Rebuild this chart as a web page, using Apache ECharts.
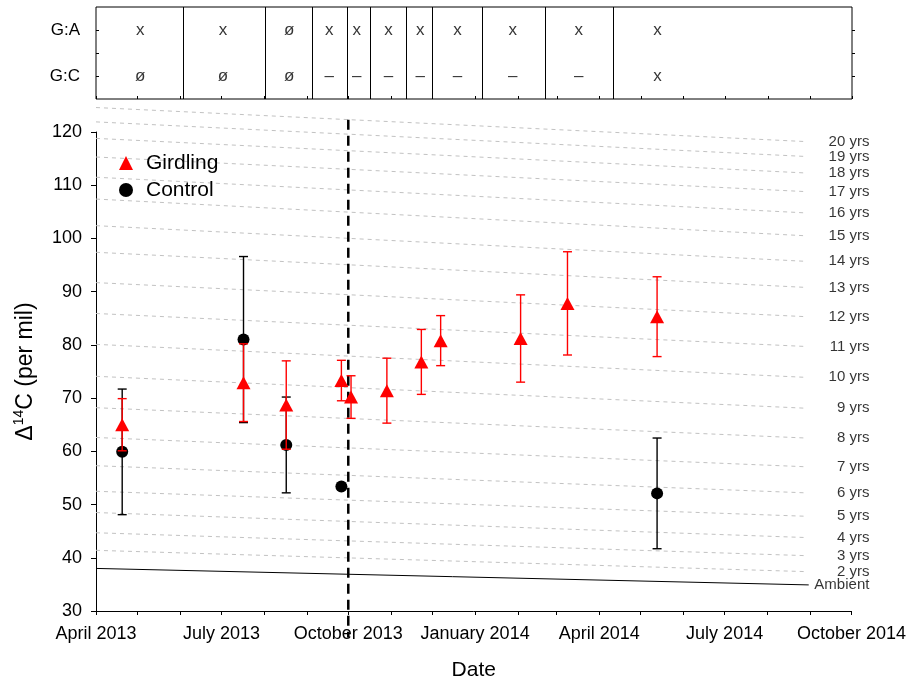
<!DOCTYPE html>
<html>
<head>
<meta charset="utf-8">
<script src="https://cdn.jsdelivr.net/npm/echarts@6/dist/echarts.min.js"></script>
<style>
html,body{margin:0;padding:0;background:#fff;}
#chart{width:909px;height:686px;}
</style>
</head>
<body>
<div id="chart"></div>
<script>
// ---------- data ----------
const axisStart = '2013-04-01';
const axisEnd = '2014-10-01';
const quarterDates = ['2013-04-01','2013-07-01','2013-10-01','2014-01-01','2014-04-01','2014-07-01','2014-10-01'];
const quarterLabels = ['April 2013','July 2013','October 2013','January 2014','April 2014','July 2014','October 2014'];
const monthDates = ['2013-04-01','2013-05-01','2013-06-01','2013-07-01','2013-08-01','2013-09-01','2013-10-01','2013-11-01','2013-12-01',
  '2014-01-01','2014-02-01','2014-03-01','2014-04-01','2014-05-01','2014-06-01','2014-07-01','2014-08-01','2014-09-01','2014-10-01'];
const yTicks = [30,40,50,60,70,80,90,100,110,120];

const girdDates = ['2013-04-20','2013-07-17','2013-08-17','2013-09-26','2013-10-03','2013-10-29','2013-11-23','2013-12-07','2014-02-03','2014-03-09','2014-05-13'];
const girdMean  = [65.0, 72.9, 68.7, 73.3, 70.2, 71.4, 76.8, 80.8, 81.2, 87.8, 85.3];
const girdErr   = [4.9, 7.3, 8.3, 3.8, 4.0, 6.1, 6.1, 4.7, 8.2, 9.7, 7.5];

const ctrlDates = ['2013-04-20','2013-07-17','2013-08-17','2013-09-26','2014-05-13'];
const ctrlMean  = [59.9, 81.0, 61.2, 53.4, 52.1];
const ctrlErr   = [11.8, 15.6, 9.0, 0, 10.4];

const ageNames     = ['20 yrs','19 yrs','18 yrs','17 yrs','16 yrs','15 yrs','14 yrs','13 yrs','12 yrs','11 yrs','10 yrs','9 yrs','8 yrs','7 yrs','6 yrs','5 yrs','4 yrs','3 yrs','2 yrs'];
const ageStartVals = [124.6,121.9,118.8,115.3,111.5,107.4,102.4,97.4,91.7,85.9,80.1,74.1,68.2,62.6,57.3,52.5,48.5,44.7,41.4];
const ageEndVals   = [118.2,115.4,112.3,108.8,104.8,100.5,95.7,90.8,85.3,79.7,73.9,68.1,62.5,57.1,52.2,47.8,43.8,40.4,37.4];
const ageLineStart = '2013-04-01';
const ageLineEnd   = '2014-08-29';
const ageLabelDate = '2014-10-14';

const ambientName = 'Ambient';
const ambientDates = ['2013-04-01','2014-08-31'];
const ambientVals  = [38.0, 34.9];

const girdlingStart = '2013-10-01';
const girdlingLineVals = [122.3, 25.0];

// top panel table
const rowNames = ['G:A','G:C'];
const rowLevels = [3, 1];
const cellDates = ['2013-05-03','2013-07-02','2013-08-19','2013-09-17','2013-10-07','2013-10-30','2013-11-22','2013-12-19','2014-01-28','2014-03-17','2014-05-13'];
const rowGA = ['x','x','ø','x','x','x','x','x','x','x','x'];
const rowGC = ['ø','ø','ø','–','–','–','–','–','–','–','x'];
const dividerDates = ['2013-06-03','2013-08-02','2013-09-05','2013-09-30','2013-10-17','2013-11-12','2013-12-01','2014-01-06','2014-02-21','2014-04-11'];

// ---------- chart ----------
const FONT = 'Liberation Sans, Arial, Helvetica, sans-serif';
const ts = s => echarts.number.parseDate(s).getTime();
const quarterTs = quarterDates.map(ts);
const monthTs = monthDates.map(ts);

function errSeries(name, dates, means, errs, color, z) {
  return {
    type: 'custom',
    name: name + ' err',
    xAxisIndex: 0, yAxisIndex: 0,
    z: z, silent: true,
    data: dates.map((d, i) => [ts(d), means[i] - errs[i], means[i] + errs[i], errs[i]]),
    encode: {x: 0, y: [1, 2]},
    renderItem: function (params, api) {
      if (api.value(3) <= 0) return null;
      const lo = api.coord([api.value(0), api.value(1)]);
      const hi = api.coord([api.value(0), api.value(2)]);
      const hw = 4.5;
      const st = {stroke: color, lineWidth: 1.4};
      return {type: 'group', children: [
        {type: 'line', shape: {x1: lo[0], y1: lo[1], x2: hi[0], y2: hi[1]}, style: st},
        {type: 'line', shape: {x1: lo[0]-hw, y1: lo[1], x2: lo[0]+hw, y2: lo[1]}, style: st},
        {type: 'line', shape: {x1: hi[0]-hw, y1: hi[1], x2: hi[0]+hw, y2: hi[1]}, style: st}
      ]};
    }
  };
}

const series = [];
ageNames.forEach((n, i) => {
  series.push({
    type: 'line', name: n, xAxisIndex: 0, yAxisIndex: 0,
    data: [[ts(ageLineStart), ageStartVals[i]], [ts(ageLineEnd), ageEndVals[i]]],
    symbol: 'none', clip: false, silent: true, z: 1,
    lineStyle: {color: '#c2c2c2', width: 1, type: [4, 4]}
  });
});
series.push({
  type: 'line', name: ambientName, xAxisIndex: 0, yAxisIndex: 0,
  data: ambientDates.map((d, i) => [ts(d), ambientVals[i]]),
  symbol: 'none', clip: false, silent: true, z: 2,
  lineStyle: {color: '#000', width: 1}
});
series.push({
  type: 'scatter', name: 'ageLabels', xAxisIndex: 0, yAxisIndex: 0,
  data: ageNames.map((n, i) => [ts(ageLabelDate), ageEndVals[i], n]).concat([[ts(ageLabelDate), ambientVals[1], ambientName]]),
  symbolSize: 0, clip: false, silent: true,
  label: {show: true, position: 'left', distance: 0, formatter: p => p.data[2],
    fontSize: 15, color: '#000', fontFamily: FONT}
});
series.push({
  type: 'line', name: 'girdlingStart', xAxisIndex: 0, yAxisIndex: 0,
  data: girdlingLineVals.map(v => [ts(girdlingStart), v]),
  symbol: 'none', clip: false, silent: true, z: 3,
  lineStyle: {color: '#000', width: 2.5, type: [10, 6]}
});
series.push(errSeries('Control', ctrlDates, ctrlMean, ctrlErr, '#000', 4));
series.push({
  type: 'scatter', name: 'Control', xAxisIndex: 0, yAxisIndex: 0,
  data: ctrlDates.map((d, i) => [ts(d), ctrlMean[i]]),
  symbol: 'circle', symbolSize: 12, z: 5,
  itemStyle: {color: '#000', opacity: 1}
});
series.push(errSeries('Girdling', girdDates, girdMean, girdErr, '#ff0000', 6));
series.push({
  type: 'scatter', name: 'Girdling', xAxisIndex: 0, yAxisIndex: 0,
  data: girdDates.map((d, i) => [ts(d), girdMean[i]]),
  symbol: 'triangle', symbolSize: [14, 13], z: 7,
  itemStyle: {color: '#ff0000', opacity: 1}
});
// table panel
const tableData = [];
cellDates.forEach((d, i) => {
  tableData.push([ts(d), rowLevels[0], rowGA[i]]);
  tableData.push([ts(d), rowLevels[1], rowGC[i]]);
});
series.push({
  type: 'scatter', name: 'table', xAxisIndex: 1, yAxisIndex: 1,
  data: tableData, symbolSize: 0, silent: true,
  label: {show: true, position: 'inside', formatter: p => p.data[2], fontSize: 17, color: '#000', fontFamily: FONT},
  markLine: {
    silent: true, symbol: 'none', animation: false,
    label: {show: false},
    lineStyle: {color: '#000', width: 1, type: 'solid'},
    data: dividerDates.map(d => ({xAxis: ts(d)}))
  }
});

const option = {
  backgroundColor: '#fff',
  animation: false,
  textStyle: {fontFamily: FONT},
  grid: [
    {left: 96, right: 57, top: 132, bottom: 73, containLabel: false},
    {left: 96, right: 57, top: 7, height: 92, show: true, borderColor: '#000', borderWidth: 1, backgroundColor: 'transparent'}
  ],
  legend: {
    data: ['Girdling', 'Control'],
    orient: 'vertical', left: 114, top: 147,
    itemWidth: 14, itemHeight: 14, itemGap: 5,
    textStyle: {fontSize: 21, color: '#000', lineHeight: 22, fontFamily: FONT, padding: [0, 0, 0, 8]}
  },
  xAxis: [
    {
      type: 'value', gridIndex: 0, min: ts(axisStart), max: ts(axisEnd),
      name: 'Date', nameLocation: 'middle', nameGap: 49,
      nameTextStyle: {fontSize: 21, color: '#000', fontFamily: FONT},
      axisLine: {show: true, lineStyle: {color: '#000', width: 1}},
      axisTick: {show: true, customValues: monthTs, length: 4, lineStyle: {color: '#000'}},
      axisLabel: {show: true, customValues: quarterTs, margin: 14, fontSize: 18, color: '#000', fontFamily: FONT,
        formatter: v => { const k = quarterTs.indexOf(v); return k >= 0 ? quarterLabels[k] : ''; }},
      splitLine: {show: false}
    },
    {
      type: 'value', gridIndex: 1, min: ts(axisStart), max: ts(axisEnd),
      axisLine: {show: false},
      axisTick: {show: true, inside: true, customValues: monthTs, length: 3, lineStyle: {color: '#000'}},
      axisLabel: {show: false},
      splitLine: {show: false}
    }
  ],
  yAxis: [
    {
      type: 'value', gridIndex: 0, min: 30, max: 120, interval: 10,
      name: '{a|Δ}{s|14}{a|C (per mil)}', nameLocation: 'middle', nameGap: 56, nameRotate: 90,
      nameTextStyle: {color: '#000', fontFamily: FONT,
        rich: {a: {fontSize: 23, color: '#000', fontFamily: FONT, lineHeight: 28},
               s: {fontSize: 14, color: '#000', fontFamily: FONT, verticalAlign: 'top', lineHeight: 28}}},
      axisLine: {show: true, lineStyle: {color: '#000', width: 1}},
      axisTick: {show: true, length: 5, lineStyle: {color: '#000'}},
      axisLabel: {show: true, margin: 14, fontSize: 18, color: '#000', fontFamily: FONT},
      splitLine: {show: false}
    },
    {
      type: 'value', gridIndex: 1, min: 0, max: 4, interval: 1,
      axisLine: {show: false},
      axisTick: {show: true, inside: true, customValues: [1, 2, 3], length: 3, lineStyle: {color: '#000'}},
      axisLabel: {show: true, customValues: rowLevels, margin: 16, fontSize: 17, color: '#000', fontFamily: FONT,
        formatter: v => { const k = rowLevels.indexOf(v); return k >= 0 ? rowNames[k] : ''; }},
      splitLine: {show: false}
    },
    {
      type: 'value', gridIndex: 1, min: 0, max: 4, interval: 1, position: 'right',
      axisLine: {show: false},
      axisTick: {show: true, inside: false, customValues: [1, 2, 3], length: 3, lineStyle: {color: '#000'}},
      axisLabel: {show: false},
      splitLine: {show: false}
    }
  ],
  series: series
};

const chart = echarts.init(document.getElementById('chart'), null, {renderer: 'canvas'});
chart.setOption(option);
</script>
</body>
</html>
